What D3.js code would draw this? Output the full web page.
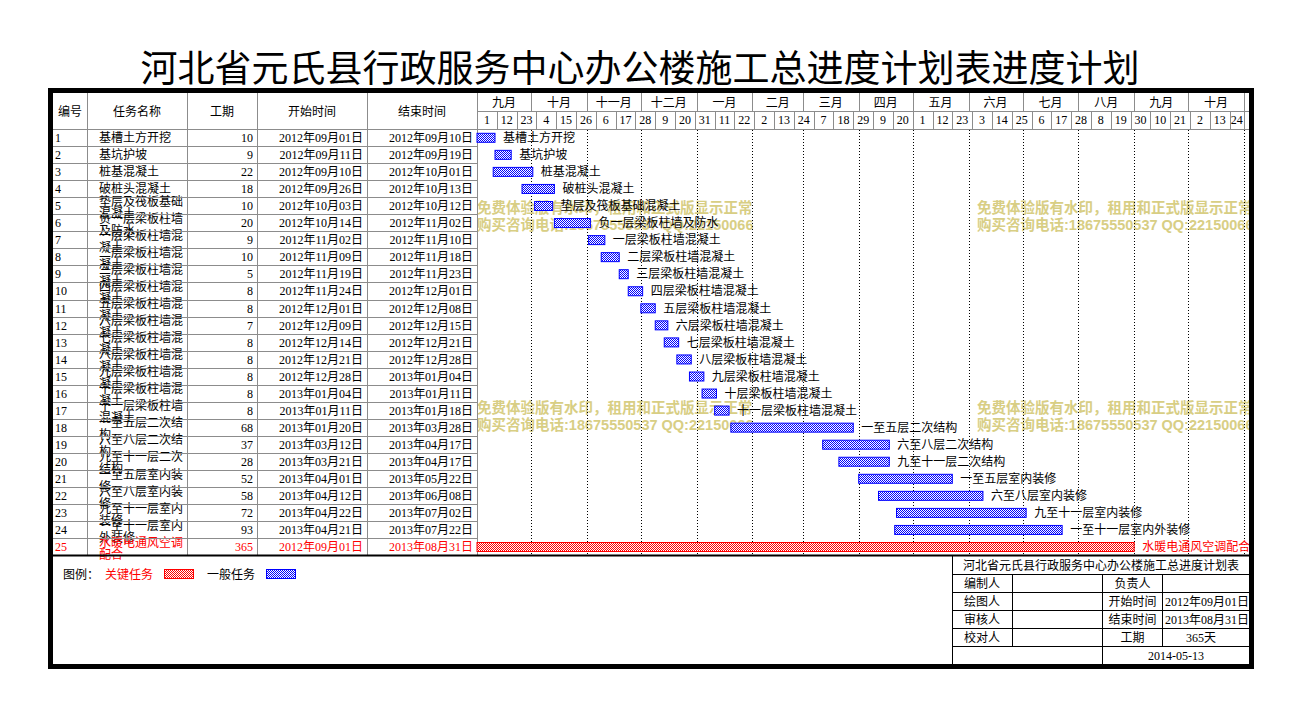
<!DOCTYPE html>
<html>
<head>
<meta charset="utf-8">
<script src="https://cdn.jsdelivr.net/npm/d3@7"></script>
<style>
body { margin: 0; background: #fff; }
text { font-family: "Liberation Serif", "Noto Sans CJK SC"; font-size: 12px; }
</style>
</head>
<body>
<div id="chart"></div>
<script>
// table data
var taskIds = [1,2,3,4,5,6,7,8,9,10,11,12,13,14,15,16,17,18,19,20,21,22,23,24,25];
var taskNames = ["基槽土方开挖","基坑护坡","桩基混凝土","破桩头混凝土","垫层及筏板基础混凝土",
  "负一层梁板柱墙及防水","一层梁板柱墙混凝土","二层梁板柱墙混凝土","三层梁板柱墙混凝土",
  "四层梁板柱墙混凝土","五层梁板柱墙混凝土","六层梁板柱墙混凝土","七层梁板柱墙混凝土",
  "八层梁板柱墙混凝土","九层梁板柱墙混凝土","十层梁板柱墙混凝土","十一层梁板柱墙混凝土",
  "一至五层二次结构","六至八层二次结构","九至十一层二次结构","一至五层室内装修",
  "六至八层室内装修","九至十一层室内装修","一至十一层室内外装修","水暖电通风空调配合"];
var durations = [10,9,22,18,10,20,9,10,5,8,8,7,8,8,8,8,8,68,37,28,52,58,72,93,365];
var startDates = ["2012-09-01","2012-09-11","2012-09-10","2012-09-26","2012-10-03","2012-10-14",
  "2012-11-02","2012-11-09","2012-11-19","2012-11-24","2012-12-01","2012-12-09","2012-12-14",
  "2012-12-21","2012-12-28","2013-01-04","2013-01-11","2013-01-20","2013-03-12","2013-03-21",
  "2013-04-01","2013-04-12","2013-04-22","2013-04-21","2012-09-01"];
var endDates = ["2012-09-10","2012-09-19","2012-10-01","2012-10-13","2012-10-12","2012-11-02",
  "2012-11-10","2012-11-18","2012-11-23","2012-12-01","2012-12-08","2012-12-15","2012-12-21",
  "2012-12-28","2013-01-04","2013-01-11","2013-01-18","2013-03-28","2013-04-17","2013-04-17",
  "2013-05-22","2013-06-08","2013-07-02","2013-07-22","2013-08-31"];
var criticalTasks = [25];

// timeline header
var monthLabels = ["九月","十月","十一月","十二月","一月","二月","三月","四月","五月","六月","七月","八月","九月","十月"];
var dayLabels = [1,12,23,4,15,26,6,17,28,9,20,31,11,22,2,13,24,7,18,29,9,20,1,12,23,3,14,25,6,17,28,8,19,30,10,21,2,13,24];
var headers = ["编号","任务名称","工期","开始时间","结束时间"];
var watermarkLines = ["免费体验版有水印，租用和正式版显示正常","购买咨询电话:18675550537 QQ:22150066"];

var width = 1301, height = 716;
var parse = d3.timeParse("%Y-%m-%d"),
    fmt = d3.timeFormat("%Y年%m月%d日");

var tasks = taskIds.map(function(id, i) {
  return { id: id, name: taskNames[i], dur: durations[i],
           start: parse(startDates[i]), end: parse(endDates[i]),
           crit: criticalTasks.indexOf(id) >= 0 };
});

var svg = d3.select("#chart").append("svg")
    .attr("width", width).attr("height", height);

var defs = svg.append("defs");
function checker(id, color) {
  var p = defs.append("pattern").attr("id", id)
      .attr("width", 2).attr("height", 2).attr("patternUnits", "userSpaceOnUse");
  p.append("rect").attr("width", 2).attr("height", 2).attr("fill", "#fff");
  p.append("rect").attr("width", 1).attr("height", 1).attr("fill", color);
  p.append("rect").attr("x", 1).attr("y", 1).attr("width", 1).attr("height", 1).attr("fill", color);
}
checker("chkBlue", "#0000ff");
checker("chkRed", "#ff0000");
defs.append("clipPath").attr("id", "inner")
  .append("rect").attr("x", 53).attr("y", 93).attr("width", 1196).attr("height", 571);

var tStart = new Date(2012, 8, 1), tEnd = new Date(2013, 10, 1);
var x = d3.scaleTime().domain([tStart, tEnd]).range([477, 1244]);
var y = d3.scaleLinear().domain([0, 25]).range([129, 555.25]);
var rowH = y(1) - y(0);
var cols = [53, 87, 187, 257, 367, 477];
var grid = "#8c8c8c";

// title
svg.append("text").attr("x", 640).attr("y", 82).attr("text-anchor", "middle")
  .style("font-family", "Noto Sans CJK SC").style("font-size", "37px")
  .text("河北省元氏县行政服务中心办公楼施工总进度计划表进度计划");

// watermarks (under the bars)
var wm = svg.append("g").attr("clip-path", "url(#inner)");
[[477, 208], [977, 208], [477, 408], [977, 408]].forEach(function(p) {
  watermarkLines.forEach(function(l, k) {
    wm.append("text").attr("x", p[0]).attr("y", p[1] + 5 + k * 17)
      .style("font-family", "Liberation Sans, Noto Sans CJK SC")
      .style("font-size", "14.5px").style("font-weight", "bold")
      .attr("fill", "#d8ce84").text(l);
  });
});

// left table header
headers.forEach(function(h, i) {
  svg.append("text").attr("x", (cols[i] + cols[i + 1]) / 2).attr("y", 115.5)
    .attr("text-anchor", "middle").text(h);
});

// table rows
var rows = svg.append("g").selectAll("g").data(tasks).enter().append("g")
  .attr("fill", function(d) { return d.crit ? "#ff0000" : "#000"; });
rows.append("text").attr("x", 55).attr("y", function(d, i) { return y(i) + rowH / 2 + 4.5; })
  .text(function(d) { return d.id; });
rows.each(function(d, i) {
  var g = d3.select(this), cy = y(i) + rowH / 2 + 4.5;
  var lines = d.name.length > 7 ? [d.name.slice(0, 7), d.name.slice(7)] : [d.name];
  lines.forEach(function(l, k) {
    g.append("text").attr("x", 99)
      .attr("y", lines.length > 1 ? cy - 4.5 + k * 12 : cy).text(l);
  });
});
rows.append("text").attr("x", 253).attr("y", function(d, i) { return y(i) + rowH / 2 + 4.5; })
  .attr("text-anchor", "end").text(function(d) { return d.dur; });
rows.append("text").attr("x", 363).attr("y", function(d, i) { return y(i) + rowH / 2 + 4.5; })
  .attr("text-anchor", "end").text(function(d) { return fmt(d.start); });
rows.append("text").attr("x", 473).attr("y", function(d, i) { return y(i) + rowH / 2 + 4.5; })
  .attr("text-anchor", "end").text(function(d) { return fmt(d.end); });

// grid of left table
var lines = svg.append("g").attr("stroke", grid).attr("stroke-width", 1);
cols.slice(1).forEach(function(c) {
  lines.append("line").attr("x1", c + 0.5).attr("x2", c + 0.5).attr("y1", 93).attr("y2", 555);
});
d3.range(1, 25).forEach(function(i) {
  lines.append("line").attr("x1", 53).attr("x2", 477).attr("y1", Math.round(y(i)) + 0.5).attr("y2", Math.round(y(i)) + 0.5);
});
lines.append("line").attr("x1", 53).attr("x2", 1249).attr("y1", 129.5).attr("y2", 129.5);
lines.append("line").attr("x1", 477).attr("x2", 1249).attr("y1", 111.5).attr("y2", 111.5);

// month header
var months = d3.timeMonth.range(tStart, tEnd);
months.forEach(function(m, i) {
  var x0 = x(m), x1 = x(d3.timeMonth.offset(m, 1));
  svg.append("text").attr("x", (x0 + x1) / 2).attr("y", 106.5).attr("text-anchor", "middle").text(monthLabels[i]);
  lines.append("line").attr("x1", Math.round(x1) + 0.5).attr("x2", Math.round(x1) + 0.5).attr("y1", 93).attr("y2", 111);
  // dotted month boundaries in the body
  svg.append("line").attr("x1", Math.round(x1) + 0.5).attr("x2", Math.round(x1) + 0.5)
    .attr("y1", 130).attr("y2", 555).attr("stroke", "#000").attr("stroke-dasharray", "1,2");
});

// 11-day header cells
dayLabels.forEach(function(lbl, i) {
  var d0 = d3.timeDay.offset(tStart, i * 11), d1 = d3.timeDay.offset(tStart, (i + 1) * 11);
  var x0 = x(d0), x1 = Math.min(x(d1), x(tEnd));
  svg.append("text").attr("x", (x0 + x1) / 2).attr("y", 124).attr("text-anchor", "middle").text(lbl);
  lines.append("line").attr("x1", Math.round(x1) + 0.5).attr("x2", Math.round(x1) + 0.5).attr("y1", 111).attr("y2", 129);
});

// bars
var bars = svg.append("g");
bars.selectAll("rect").data(tasks).enter().append("rect")
  .attr("x", function(d) { return x(d.start); })
  .attr("y", function(d, i) { return y(i) + 4.3; })
  .attr("width", function(d) { return x(d3.timeDay.offset(d.end, 1)) - x(d.start); })
  .attr("height", 9)
  .attr("fill", function(d) { return d.crit ? "url(#chkRed)" : "url(#chkBlue)"; })
  .attr("stroke", function(d) { return d.crit ? "#ff0000" : "#0000ff"; });
bars.selectAll("text").data(tasks).enter().append("text")
  .attr("x", function(d) { return x(d3.timeDay.offset(d.end, 1)) + 8; })
  .attr("y", function(d, i) { return y(i) + rowH / 2 + 4.5; })
  .attr("fill", function(d) { return d.crit ? "#ff0000" : "#000"; })
  .attr("clip-path", "url(#inner)")
  .text(function(d) { return d.name; });

// bottom line of table
svg.append("line").attr("x1", 53).attr("x2", 1249).attr("y1", 555.5).attr("y2", 555.5)
  .attr("stroke", "#000").attr("stroke-width", 2);

// legend
svg.append("text").attr("x", 63).attr("y", 578.5).text("图例：");
svg.append("text").attr("x", 105).attr("y", 578.5).attr("fill", "#ff0000").text("关键任务");
svg.append("rect").attr("x", 164.5).attr("y", 569.5).attr("width", 29).attr("height", 9)
  .attr("fill", "url(#chkRed)").attr("stroke", "#ff0000");
svg.append("text").attr("x", 207).attr("y", 578.5).text("一般任务");
svg.append("rect").attr("x", 266.5).attr("y", 569.5).attr("width", 29).attr("height", 9)
  .attr("fill", "url(#chkBlue)").attr("stroke", "#0000ff");

// info table
var infoRows = [574.5, 592.5, 610.5, 628.5, 646.5];
var infoLeft = ["编制人","绘图人","审核人","校对人"];
var infoMid = ["负责人","开始时间","结束时间","工期"];
var infoRight = ["", "2012年09月01日", "2013年08月31日", "365天"];
var info = svg.append("g").attr("stroke", "#000").attr("stroke-width", 1);
info.append("line").attr("x1", 952.5).attr("x2", 952.5).attr("y1", 555).attr("y2", 664);
infoRows.forEach(function(r) {
  info.append("line").attr("x1", 952).attr("x2", 1249).attr("y1", r).attr("y2", r);
});
info.append("line").attr("x1", 1012.5).attr("x2", 1012.5).attr("y1", 574.5).attr("y2", 646.5);
info.append("line").attr("x1", 1102.5).attr("x2", 1102.5).attr("y1", 574.5).attr("y2", 664);
info.append("line").attr("x1", 1162.5).attr("x2", 1162.5).attr("y1", 574.5).attr("y2", 646.5);
svg.append("text").attr("x", 1101).attr("y", 569.5).attr("text-anchor", "middle")
  .text("河北省元氏县行政服务中心办公楼施工总进度计划表");
infoLeft.forEach(function(t, i) {
  var cy = (infoRows[i] + infoRows[i + 1]) / 2 + 4.5;
  svg.append("text").attr("x", 964).attr("y", cy).text(t);
  svg.append("text").attr("x", 1132.5).attr("y", cy).attr("text-anchor", "middle").text(infoMid[i]);
  if (i === 3) svg.append("text").attr("x", 1201).attr("y", cy).attr("text-anchor", "middle").text(infoRight[i]);
  else svg.append("text").attr("x", 1165).attr("y", cy).text(infoRight[i]);
});
svg.append("text").attr("x", 1176).attr("y", 659.5).attr("text-anchor", "middle").text("2014-05-13");

// black frame
svg.append("rect").attr("x", 50.5).attr("y", 90.5).attr("width", 1201).attr("height", 576)
  .attr("fill", "none").attr("stroke", "#000").attr("stroke-width", 5);
</script>
</body>
</html>
